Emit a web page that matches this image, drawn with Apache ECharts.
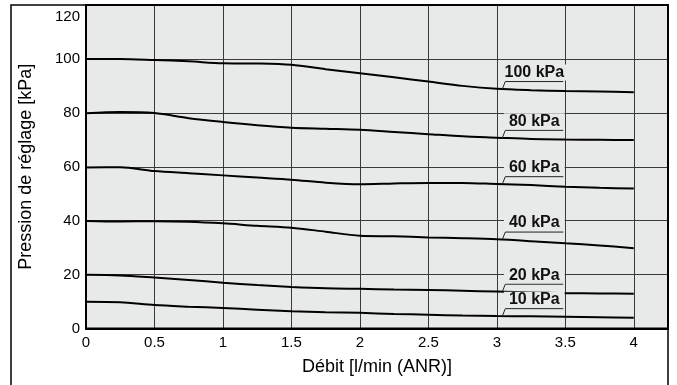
<!DOCTYPE html>
<html>
<head>
<meta charset="utf-8">
<script src="https://cdn.jsdelivr.net/npm/echarts@6/dist/echarts.min.js"></script>
<style>
html,body{margin:0;padding:0;background:#fff;}
#c{width:677px;height:385px;}
</style>
</head>
<body>
<div id="c"></div>
<script>
// Débit [l/min (ANR)]
const flow = [0, 0.25, 0.5, 0.75, 1, 1.25, 1.5, 1.75, 2, 2.25, 2.5, 2.75, 3, 3.25, 3.5, 3.75, 4];
// Pression de réglage [kPa]
const p100 = [100, 100, 99.6, 99.1, 98.4, 98.3, 97.8, 96.2, 94.7, 93.2, 91.6, 90.0, 88.9, 88.4, 88.1, 87.9, 87.6];
const p80  = [79.8, 80.3, 79.9, 78.0, 76.6, 75.4, 74.5, 74.1, 73.7, 72.9, 72.1, 71.3, 70.8, 70.3, 70.1, 70.0, 69.9];
const p60  = [59.7, 59.8, 58.4, 57.6, 56.8, 56.0, 55.2, 54.1, 53.5, 53.8, 54.0, 54.0, 53.6, 53.2, 52.6, 52.2, 51.9];
const p40  = [39.9, 39.7, 39.8, 39.6, 39.0, 38.1, 37.4, 35.9, 34.4, 34.2, 33.8, 33.5, 33.1, 32.4, 31.6, 30.8, 29.8];
const p20  = [19.9, 19.7, 18.9, 18.0, 17.0, 16.1, 15.4, 14.9, 14.7, 14.5, 14.3, 14.0, 13.7, 13.4, 13.1, 13.0, 12.9];
const p10  = [9.9, 9.7, 8.7, 8.1, 7.6, 7.0, 6.4, 6.0, 5.8, 5.4, 5.1, 4.8, 4.6, 4.5, 4.4, 4.2, 4.0];
const seriesNames = ['100 kPa', '80 kPa', '60 kPa', '40 kPa', '20 kPa', '10 kPa'];
const seriesValues = [p100, p80, p60, p40, p20, p10];
const xTicks = [0, 0.5, 1, 1.5, 2, 2.5, 3, 3.5, 4];
const yTicks = [0, 20, 40, 60, 80, 100, 120];
const labelAtFlow = 3.04;

const FONT = '"Liberation Sans", Arial, Helvetica, sans-serif';
const PLOT_BG = '#e8e9e9';
const chart = echarts.init(document.getElementById('c'), null, {renderer: 'canvas'});

const series = seriesValues.map((vals, i) => ({
  name: seriesNames[i],
  type: 'line',
  data: flow.map((x, j) => [x, vals[j]]),
  smooth: 0.3,
  symbol: 'none',
  lineStyle: {color: '#000', width: 2},
  z: 5
}));

chart.setOption({
  animation: false,
  backgroundColor: '#fff',
  grid: {left: 86, top: 5, right: 9, bottom: 56.5, show: true, backgroundColor: PLOT_BG, borderWidth: 0},
  xAxis: {
    type: 'value', min: 0, max: 4.25, interval: 0.5,
    name: 'Débit [l/min (ANR)]', nameLocation: 'middle', nameGap: 30,
    nameTextStyle: {fontFamily: FONT, fontSize: 18, color: '#000'},
    axisLine: {show: true, lineStyle: {color: '#000', width: 2}},
    axisTick: {show: false},
    axisLabel: {
      margin: 7, fontFamily: FONT, fontSize: 15, color: '#000',
      showMaxLabel: true,
      formatter: v => (xTicks.indexOf(v) >= 0 ? String(v) : '')
    },
    splitLine: {show: true, lineStyle: {color: '#3a3a3a', width: 1}}
  },
  yAxis: {
    type: 'value', min: 0, max: 120, interval: 20,
    name: 'Pression de réglage [kPa]', nameLocation: 'middle', nameGap: 51,
    nameTextStyle: {fontFamily: FONT, fontSize: 18, color: '#000'},
    axisLine: {show: true, lineStyle: {color: '#000', width: 2}},
    axisTick: {show: false},
    axisLabel: {
      margin: 6, fontFamily: FONT, fontSize: 15, color: '#000',
      formatter: v => (v === yTicks[yTicks.length - 1] ? '{t|' + v + '}' : String(v)),
      rich: {t: {fontFamily: FONT, fontSize: 15, color: '#000', padding: [24, 0, 0, 0]}}
    },
    splitLine: {show: true, lineStyle: {color: '#3a3a3a', width: 1}}
  },
  series: series
});

function valueAt(vals, x) {
  for (let j = 0; j < flow.length - 1; j++) {
    if (x >= flow[j] && x <= flow[j + 1]) {
      const t = (x - flow[j]) / (flow[j + 1] - flow[j]);
      return vals[j] + t * (vals[j + 1] - vals[j]);
    }
  }
  return vals[vals.length - 1];
}

const graphics = [];
// outer frame
const g00 = chart.convertToPixel({gridIndex: 0}, [0, 0]);
const gTR = chart.convertToPixel({gridIndex: 0}, [4.25, 120]);
graphics.push({
  type: 'polyline', z: 100,
  shape: {points: [[11, 385], [11, gTR[1]], [gTR[0], gTR[1]], [gTR[0], 385]]},
  style: {stroke: '#000', lineWidth: 1.5, fill: null}
});
graphics.push({
  type: 'rect', z: 100,
  shape: {x: g00[0], y: gTR[1], width: gTR[0] - g00[0], height: g00[1] - gTR[1]},
  style: {stroke: '#000', lineWidth: 2, fill: null}
});

seriesValues.forEach((vals, i) => {
  const a = chart.convertToPixel({gridIndex: 0}, [labelAtFlow, valueAt(vals, labelAtFlow)]);
  const ux = a[0] + 3, uy = a[1] - 7.5;
  graphics.push({
    type: 'polyline', z: 101,
    shape: {points: [[a[0], a[1]], [ux, uy], [ux + 58, uy]]},
    style: {stroke: '#222', lineWidth: 1, fill: null}
  });
  graphics.push({
    type: 'text', z: 102,
    style: {
      text: seriesNames[i], x: ux + 29, y: uy - 9,
      align: 'center', verticalAlign: 'middle',
      font: 'bold 16px ' + FONT, fill: '#111',
      backgroundColor: PLOT_BG, padding: [0, 5]
    }
  });
});
chart.setOption({graphic: graphics});
</script>
</body>
</html>
